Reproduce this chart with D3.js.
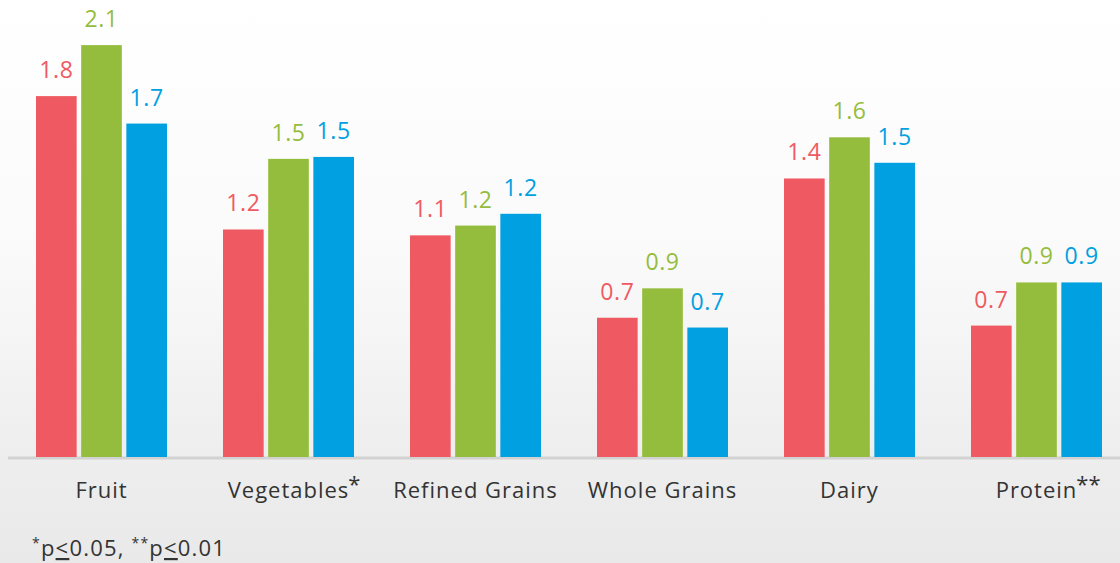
<!DOCTYPE html>
<html><head><meta charset="utf-8">
<script src="https://cdn.jsdelivr.net/npm/d3@7"></script>
<style>html,body{margin:0;padding:0;}svg{display:block;}</style>
</head><body>
<script>
const categories = ["Fruit","Vegetables","Refined Grains","Whole Grains","Dairy","Protein"];
const catMarks = ["","*","","","","**"];
const series1 = [1.84,1.16,1.13,0.71,1.42,0.67];
const series2 = [2.10,1.52,1.18,0.86,1.63,0.89];
const series3 = [1.70,1.53,1.24,0.66,1.50,0.89];
const seriesColors = ["#EF5A62","#95BD3D","#00A0E1"];
const footnote = [{sup:"*",t:"p"},{u:"<"},{t:"0.05, "},{sup:"**",t:"p"},{u:"<"},{t:"0.01"}];

const W=1120,H=563;
const svg=d3.select("body").append("svg").attr("width",W).attr("height",H);
const defs=svg.append("defs");
const g=defs.append("linearGradient").attr("id","bg").attr("x1",0).attr("y1",0).attr("x2",0).attr("y2",1);
g.append("stop").attr("offset","0").attr("stop-color","#ffffff");
g.append("stop").attr("offset","0.45").attr("stop-color","#fafafa");
g.append("stop").attr("offset","0.8").attr("stop-color","#eeeeee");
g.append("stop").attr("offset","1").attr("stop-color","#e9e9e9");
svg.append("rect").attr("width",W).attr("height",H).attr("fill","url(#bg)");

const font="'Century Gothic','Open Sans',sans-serif";
const x0=d3.scaleBand().domain(categories).range([8,1130]).paddingInner(0).paddingOuter(0);
const keys=[0,1,2];
const x1=d3.scaleBand().domain(keys).range([0,131]).paddingInner(0.1);
const y=d3.scaleLinear().domain([0,2.33]).range([457,0]);
const data=categories.map((c,i)=>({c,v:[series1[i],series2[i],series3[i]]}));

svg.append("line").attr("x1",8).attr("x2",W).attr("y1",458).attr("y2",458)
  .attr("stroke","#d2d2d2").attr("stroke-width",3);

const grp=svg.selectAll("g.cat").data(data).join("g")
  .attr("transform",d=>`translate(${x0(d.c)+x0.bandwidth()/2-65.5},0)`);
grp.selectAll("rect").data(d=>d.v.map((v,k)=>({v,k}))).join("rect")
  .attr("x",d=>x1(d.k)).attr("width",x1.bandwidth())
  .attr("y",d=>y(d.v)).attr("height",d=>y(0)-y(d.v))
  .attr("fill",d=>seriesColors[d.k]);
grp.selectAll("text.val").data(d=>d.v.map((v,k)=>({v,k}))).join("text")
  .attr("class","val")
  .attr("x",d=>x1(d.k)+x1.bandwidth()/2).attr("y",d=>y(d.v)-18)
  .attr("text-anchor","middle").attr("font-family",font).attr("font-size",23).attr("letter-spacing",0.6)
  .attr("fill",d=>seriesColors[d.k]).text(d=>d3.format(".1f")(d.v));

svg.selectAll("text.cat").data(categories).join("text").attr("class","cat")
  .attr("x",d=>x0(d)+x0.bandwidth()/2).attr("y",498)
  .attr("text-anchor","middle").attr("font-family",font).attr("font-size",22).attr("letter-spacing",1)
  .attr("fill","#333").text(d=>d)
  .each(function(d,i){
    if(!catMarks[i]) return;
    const len=this.getComputedTextLength();
    svg.append("text").attr("x",x0(d)+x0.bandwidth()/2+len/2-1).attr("y",492)
      .attr("font-family",font).attr("font-size",22).attr("fill","#333").text(catMarks[i]);
  });

const fn=svg.append("text").attr("x",32).attr("y",556).attr("font-family",font).attr("font-size",22).attr("letter-spacing",1.2).attr("fill","#333");
footnote.forEach(p=>{
  if(p.sup){fn.append("tspan").attr("dy",-8).attr("font-size",14).text(p.sup);fn.append("tspan").attr("dy",8).text(p.t);}
  else if(p.u){fn.append("tspan").attr("text-decoration","underline").text(p.u);}
  else fn.append("tspan").text(p.t);
});
</script>
</body></html>
